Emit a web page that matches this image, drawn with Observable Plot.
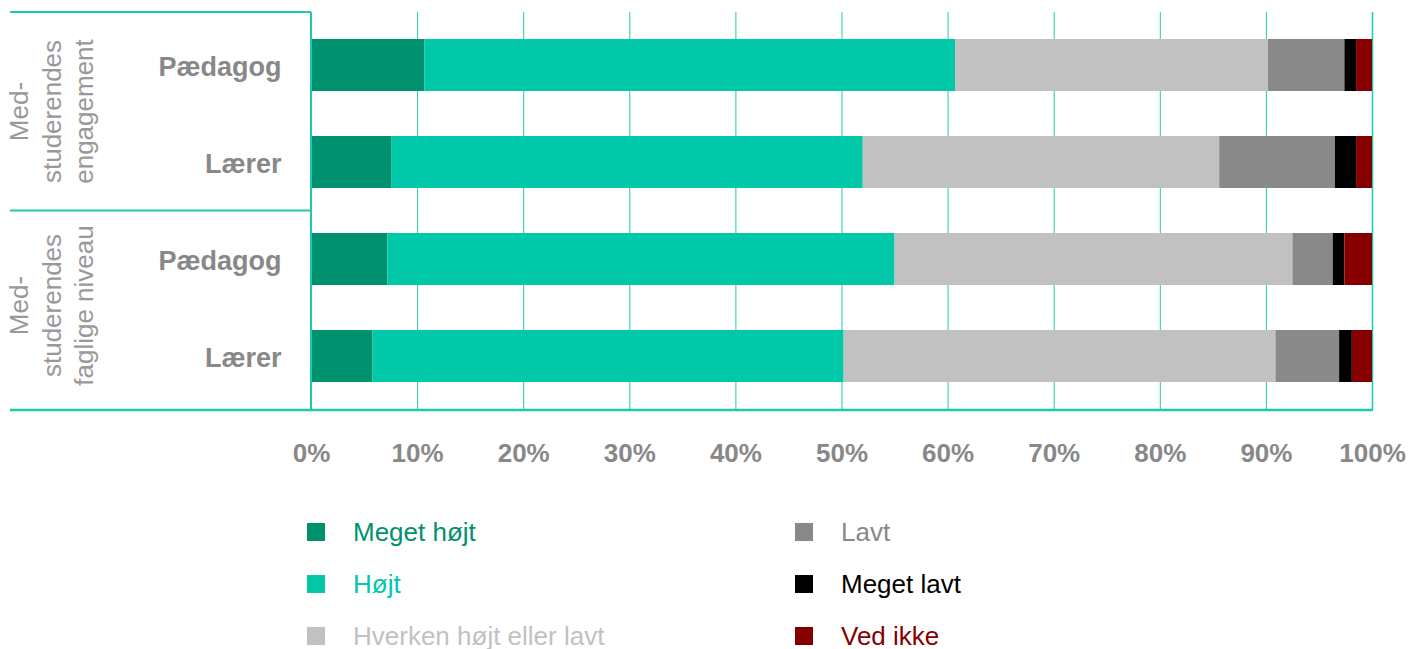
<!DOCTYPE html>
<html>
<head>
<meta charset="utf-8">
<script src="https://cdn.jsdelivr.net/npm/d3@7"></script>
<script src="https://cdn.jsdelivr.net/npm/@observablehq/plot@0.6"></script>
<style>
  html, body { margin: 0; padding: 0; background: #fff; }
  body { font-family: "Liberation Sans", Arial, Helvetica, sans-serif; width: 1408px; height: 649px; overflow: hidden; }
  #legend { display: grid; grid-auto-flow: column; grid-template-rows: repeat(3, 52px); grid-template-columns: 488px 420px; margin-top: 26px; padding-left: 307px; }
  .item { display: flex; align-items: center; font-size: 26px; white-space: nowrap; }
  .sw { width: 18px; height: 18px; margin-right: 28px; flex: none; }
</style>
</head>
<body>
<div id="chart"></div>
<div id="legend"></div>
<script>
// ---- data ----
const groups = ["Med-\nstuderendes\nengagement", "Med-\nstuderendes\nfaglige niveau"];
const respondents = ["Pædagog", "Lærer"];
const categories = ["Meget højt", "Højt", "Hverken højt eller lavt", "Lavt", "Meget lavt", "Ved ikke"];
const colors = ["#00916f", "#00c8a9", "#c1c1c1", "#898989", "#000000", "#870000"];
const xTicks = [0, 10, 20, 30, 40, 50, 60, 70, 80, 90, 100];

const engagementPaedagog = [10.7, 50.0, 29.5, 7.2, 1.1, 1.5];
const engagementLaerer   = [7.6, 44.4, 33.6, 10.9, 2.0, 1.5];
const fagligPaedagog     = [7.2, 47.8, 37.5, 3.8, 1.1, 2.6];
const fagligLaerer       = [5.8, 44.4, 40.7, 6.0, 1.2, 1.9];

const series = [
  [engagementPaedagog, engagementLaerer],
  [fagligPaedagog, fagligLaerer]
];

// ---- build table ----
const rowKeys = [];
const table = [];
groups.forEach((g, gi) => {
  respondents.forEach((r, ri) => {
    const key = gi + "|" + r;
    rowKeys.push(key);
    series[gi][ri].forEach((v, ci) => table.push({row: key, category: categories[ci], value: v}));
  });
});
const groupLabels = groups.map((g, gi) => ({label: g, row: rowKeys[gi * 2]}));

const teal = "#1ecba9";
const W = 1408, H = 480, mTop = 12, mBottom = 70, mLeft = 311, mRight = 36;

const plot = Plot.plot({
  width: W,
  height: H,
  marginTop: mTop,
  marginBottom: mBottom,
  marginLeft: mLeft,
  marginRight: mRight,
  style: {fontFamily: '"Liberation Sans", Arial, Helvetica, sans-serif', background: "#fff"},
  x: {domain: [0, 100]},
  y: {domain: rowKeys, range: [15, 407], paddingInner: 0.459, paddingOuter: 0.2296},
  color: {domain: categories, range: colors},
  marks: [
    Plot.ruleX(xTicks.filter(d => d > 0 && d < 100), {stroke: teal, strokeWidth: 1}),
    Plot.ruleX([100], {stroke: teal, strokeWidth: 1.5}),
    Plot.barX(table, Plot.stackX({x: "value", y: "row", fill: "category", order: categories})),
    Plot.axisX({ticks: xTicks, tickFormat: d => d + "%", tickSize: 0, tickPadding: 33, fontSize: 26, fontWeight: "bold", fill: "#888", label: null}),
    Plot.axisY({tickFormat: d => d.split("|")[1], tickSize: 0, tickPadding: 30, fontSize: 27, fontWeight: "bold", fill: "#888", label: null, dy: 2}),
    Plot.text(groupLabels, {
      y: "row", text: "label", frameAnchor: "left", dx: -261, dy: 46,
      rotate: -90, textAnchor: "middle", lineAnchor: "middle", lineHeight: 1.25,
      fontSize: 26, fill: "#999"
    })
  ]
});
document.getElementById("chart").appendChild(plot);

// box lines around the row labels and the bottom baseline
const svg = d3.select(plot);
const ys = plot.scale("y");
const frameTop = mTop, frameBottom = H - mBottom;
const sepY = ys.apply(rowKeys[1]) + ys.bandwidth + (ys.step - ys.bandwidth) / 2;
const gLines = svg.append("g").attr("stroke", teal).attr("fill", "none");
gLines.append("line").attr("x1", 10).attr("x2", mLeft).attr("y1", frameTop).attr("y2", frameTop).attr("stroke-width", 2);
gLines.append("line").attr("x1", 10).attr("x2", mLeft).attr("y1", sepY).attr("y2", sepY).attr("stroke-width", 2);
gLines.append("line").attr("x1", mLeft).attr("x2", mLeft).attr("y1", frameTop).attr("y2", frameBottom).attr("stroke-width", 2);
gLines.append("line").attr("x1", 10).attr("x2", W - mRight + 1).attr("y1", frameBottom).attr("y2", frameBottom).attr("stroke-width", 2.5);

// legend
const legend = d3.select("#legend");
categories.forEach((c, i) => {
  const it = legend.append("div").attr("class", "item").style("color", colors[i]);
  it.append("div").attr("class", "sw").style("background", colors[i]);
  it.append("span").text(c);
});
</script>
</body>
</html>
